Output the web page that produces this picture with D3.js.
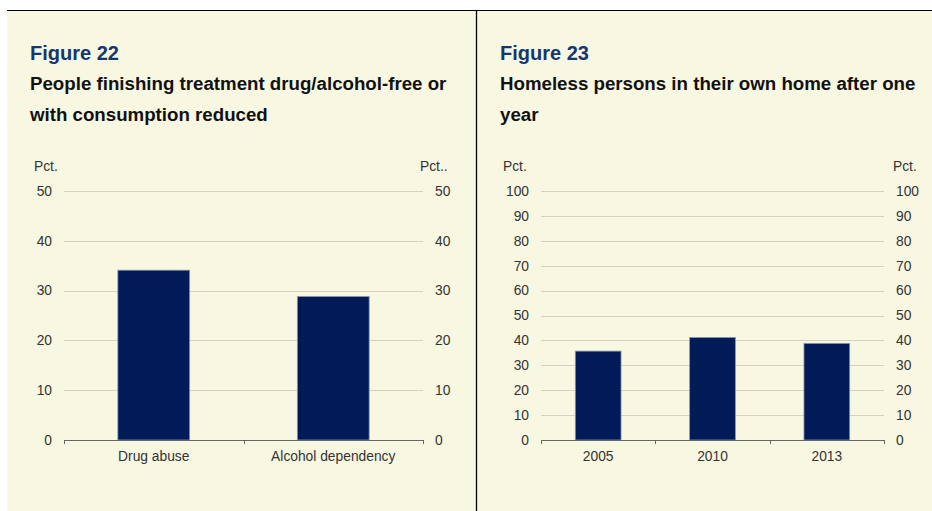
<!DOCTYPE html>
<html>
<head>
<meta charset="utf-8">
<script src="https://cdn.jsdelivr.net/npm/d3@7"></script>
<style>
  html, body { margin: 0; padding: 0; background: #ffffff; }
  svg { display: block; font-family: "Liberation Sans", Arial, sans-serif; }
</style>
</head>
<body>
<svg id="chart" width="932" height="511"></svg>
<script>
// Figure 22: treatment outcomes
const categories22 = ["Drug abuse", "Alcohol dependency"];
const values22 = [34.1, 28.8];
const ticks22 = [0, 10, 20, 30, 40, 50];

// Figure 23: homeless persons housed after one year
const categories23 = ["2005", "2010", "2013"];
const values23 = [35.7, 41.2, 38.8];
const ticks23 = [0, 10, 20, 30, 40, 50, 60, 70, 80, 90, 100];

const svg = d3.select("#chart");
const cream = "#f8f7e2";
const barFill = "#011b58";
const labelSize = 13.8;

// panel backgrounds and frame lines
svg.append("rect").attr("x", 7).attr("y", 10).attr("width", 469).attr("height", 501).attr("fill", cream);
svg.append("rect").attr("x", 477).attr("y", 10).attr("width", 455).attr("height", 501).attr("fill", cream);
svg.append("line").attr("x1", 7).attr("x2", 932).attr("y1", 10.5).attr("y2", 10.5).attr("stroke", "#000").attr("stroke-width", 1);
svg.append("line").attr("x1", 476.5).attr("x2", 476.5).attr("y1", 10).attr("y2", 511).attr("stroke", "#000").attr("stroke-width", 1.3);

function panel(cfg) {
  const g = svg.append("g");
  g.append("text").attr("x", cfg.tx).attr("y", 60)
    .attr("fill", "#15366e").attr("font-weight", "bold").attr("font-size", 20)
    .text(cfg.fig);
  cfg.title.forEach((t, i) => {
    g.append("text").attr("x", cfg.tx).attr("y", 90 + i * 31)
      .attr("fill", "#111").attr("font-weight", "bold").attr("font-size", 18.7)
      .text(t);
  });

  const x = d3.scaleBand().domain(cfg.cats).range([cfg.x0, cfg.x1])
    .paddingInner(0.6).paddingOuter(0.3);
  const y = d3.scaleLinear().domain([0, cfg.max]).range([440, 191]);

  // gridlines
  g.selectAll("line.grid").data(cfg.ticks.filter(d => d > 0)).join("line")
    .attr("x1", cfg.x0).attr("x2", cfg.x1)
    .attr("y1", d => Math.round(y(d)) + 0.5).attr("y2", d => Math.round(y(d)) + 0.5)
    .attr("stroke", "#d3d1c0").attr("stroke-width", 1.2);

  // tick labels on both sides
  g.selectAll("text.yl").data(cfg.ticks).join("text")
    .attr("x", cfg.x0 - 12).attr("y", d => y(d)).attr("dy", "0.35em")
    .attr("text-anchor", "end").attr("font-size", labelSize).attr("fill", "#333")
    .text(d => d);
  g.selectAll("text.yr").data(cfg.ticks).join("text")
    .attr("x", cfg.x1 + 12).attr("y", d => y(d)).attr("dy", "0.35em")
    .attr("text-anchor", "start").attr("font-size", labelSize).attr("fill", "#333")
    .text(d => d);
  g.append("text").attr("x", cfg.pl).attr("y", 171).attr("font-size", labelSize).attr("fill", "#333").text("Pct.");
  g.append("text").attr("x", cfg.pr).attr("y", 171).attr("font-size", labelSize).attr("fill", "#333").text(cfg.prText);

  // bars
  g.selectAll("rect.bar").data(cfg.vals).join("rect")
    .attr("x", (d, i) => x(cfg.cats[i]))
    .attr("width", x.bandwidth())
    .attr("y", d => y(d))
    .attr("height", d => 440 - y(d))
    .attr("fill", barFill)
    .attr("stroke", "#8d96a8").attr("stroke-width", 0.8);

  // category axis
  const xAxis = d3.axisBottom(x).tickSize(0).tickPadding(11);
  const ax = g.append("g").attr("transform", "translate(0,440)").call(xAxis);
  ax.select(".domain").remove();
  ax.selectAll("text").attr("font-size", labelSize).attr("fill", "#333")
    .attr("font-family", "Liberation Sans, Arial, sans-serif");
  g.append("line").attr("x1", cfg.x0).attr("x2", cfg.x1).attr("y1", 440.5).attr("y2", 440.5)
    .attr("stroke", "#666").attr("stroke-width", 1);
  // small ticks at the category boundaries
  const edges = [cfg.x0].concat(cfg.cats.slice(1).map(c => x(c) - x.step() * x.paddingInner() / 2)).concat([cfg.x1]);
  g.selectAll("line.tk").data(edges).join("line")
    .attr("x1", d => Math.round(d) + 0.5).attr("x2", d => Math.round(d) + 0.5)
    .attr("y1", 440).attr("y2", 444)
    .attr("stroke", "#666").attr("stroke-width", 1);
}

panel({
  fig: "Figure 22",
  title: ["People finishing treatment drug/alcohol-free or", "with consumption reduced"],
  tx: 30, x0: 64, x1: 423, max: 50, ticks: ticks22,
  cats: categories22, vals: values22, pl: 34, pr: 420, prText: "Pct.."
});
panel({
  fig: "Figure 23",
  title: ["Homeless persons in their own home after one", "year"],
  tx: 500, x0: 541, x1: 884, max: 100, ticks: ticks23,
  cats: categories23, vals: values23, pl: 503, pr: 893, prText: "Pct."
});
</script>
</body>
</html>
